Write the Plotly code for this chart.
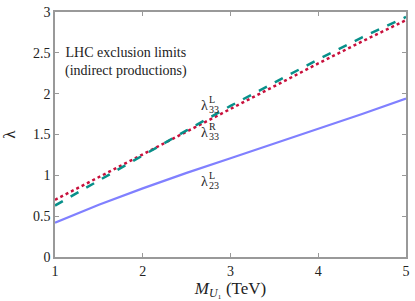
import plotly.graph_objects as go

mass = [1.0, 1.5, 2.0, 2.5, 3.0, 3.5, 4.0, 4.5, 5.0]
lam33L = [0.63, 0.94, 1.25, 1.55, 1.85, 2.14, 2.42, 2.69, 2.94]
lam33R = [0.70, 0.98, 1.26, 1.54, 1.82, 2.09, 2.37, 2.64, 2.90]
lam23L = [0.42, 0.64, 0.84, 1.03, 1.21, 1.39, 1.57, 1.75, 1.94]

labels = [("L", "33", 2.70, 1.86), ("R", "33", 2.70, 1.52), ("L", "23", 2.70, 0.92)]

FONT = "Liberation Serif"
fig = go.Figure()
fig.add_trace(go.Scatter(x=mass, y=lam23L, mode="lines",
                         line=dict(color="#8080ff", width=2.2)))
fig.add_trace(go.Scatter(x=mass, y=lam33R, mode="lines",
                         line=dict(color="#c8103c", width=2.5, dash="dot")))
fig.add_trace(go.Scatter(x=mass, y=lam33L, mode="lines",
                         line=dict(color="#08908a", width=2.5, dash="dash")))

ann = []
for sup, sub, x, y in labels:
    ann.append(dict(x=x, y=y, text="λ", showarrow=False, xanchor="center", yanchor="middle",
                    font=dict(family=FONT, size=14, color="#222")))
    ann.append(dict(x=x, y=y, text=sup, showarrow=False, xanchor="left", yanchor="middle",
                    xshift=3, yshift=6, font=dict(family=FONT, size=10, color="#222")))
    ann.append(dict(x=x, y=y, text=sub, showarrow=False, xanchor="left", yanchor="middle",
                    xshift=3, yshift=-4, font=dict(family=FONT, size=10, color="#222")))
ann.append(dict(x=1.81, y=2.39, text="LHC exclusion limits<br>(indirect productions)",
                showarrow=False, xanchor="center", yanchor="middle", align="center",
                font=dict(family=FONT, size=14, color="#222")))

axis_common = dict(showgrid=False, zeroline=False, showline=True, linecolor="#999",
                   linewidth=1.5, mirror="ticks", ticks="inside", ticklen=4,
                   ticklabeloverflow="allow",
                   tickcolor="#999", tickfont=dict(family=FONT, size=14, color="#222"))
fig.update_layout(
    width=415, height=301,
    margin=dict(l=54, r=5, t=7, b=44),
    font=dict(family=FONT, color="#222"),
    plot_bgcolor="white", paper_bgcolor="white",
    showlegend=False,
    annotations=ann,
    xaxis=dict(range=[1, 5], tickvals=[1, 2, 3, 4, 5],
               title=dict(text="<i>M</i><sub><i>U</i>₁</sub> (TeV)", standoff=0,
                          font=dict(family=FONT, size=17, color="#222")),
               **axis_common),
    yaxis=dict(range=[0, 3], tickvals=[0, 0.5, 1, 1.5, 2, 2.5, 3],
               title=dict(text="λ", standoff=16,
                          font=dict(family=FONT, size=17, color="#222")),
               **axis_common),
)
fig.write_html("out.html", config={"displayModeBar": False},
               post_script="document.body.style.margin='0';")
